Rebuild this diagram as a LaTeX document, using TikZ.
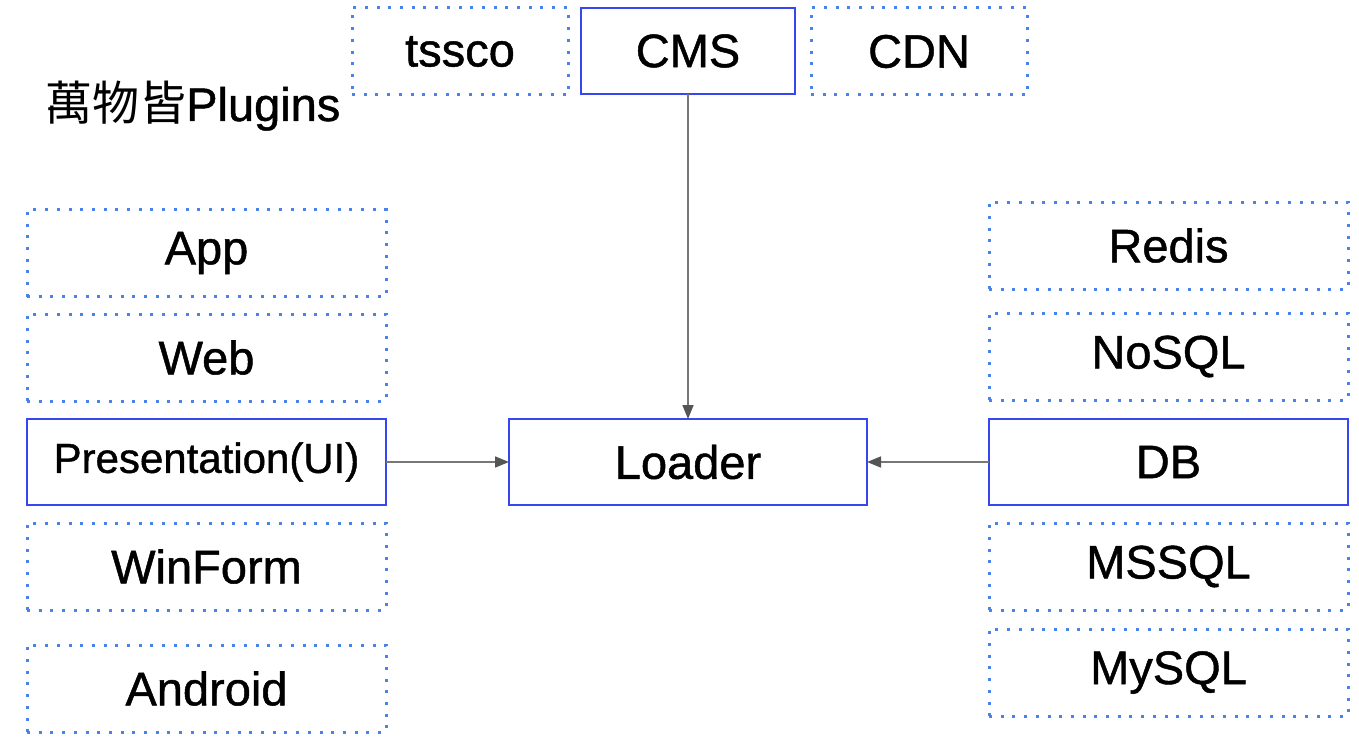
\documentclass[tikz,border=0pt]{standalone}
\usepackage{fontspec}
\setmainfont{Liberation Sans}[FakeBold=1]
\newfontfamily\cjk{Noto Sans CJK TC}
\usetikzlibrary{arrows.meta}
\definecolor{solidblue}{HTML}{3646F0}
\definecolor{dotblue}{HTML}{4A82EA}
\definecolor{linegray}{HTML}{777777}
\definecolor{tipgray}{HTML}{555555}
\tikzset{
  box/.style={rectangle, minimum width=359pt, minimum height=87pt, inner sep=0pt, outer sep=0pt,
    font=\fontsize{47}{52}\selectfont, text=black},
  solidbox/.style={box, draw=solidblue, line width=1.5pt},
  dotbox/.style={box, draw=dotblue, line width=3pt, dash pattern=on 3pt off 8.7pt},
  smallbox/.style={minimum width=216pt},
  conn/.style={draw=linegray, line width=1.6pt, -{Triangle[length=14pt,width=11pt,color=tipgray]}}
}
\begin{document}
\begin{tikzpicture}[x=1pt,y=-1pt]
\useasboundingbox (0,0) rectangle (1359,749);
% top row
\node[dotbox, smallbox] (tssco) at (460,51.5) {tssco};
\node[solidbox, minimum width=214pt, minimum height=86pt] (cms) at (688,51) {CMS};
\node[dotbox, smallbox] (cdn) at (919,51.5) {CDN};
% title
\node[anchor=base west, inner sep=0pt, font=\fontsize{47}{52}\selectfont] (title) at (45,121) {{\cjk 萬物皆}Plugins};
% left column
\node[dotbox] (app) at (206.5,253) {App};
\node[dotbox] (web) at (206.5,357.5) {Web};
\node[solidbox, minimum height=86pt, font=\fontsize{42}{46}\selectfont] (ui) at (206.5,462) {Presentation(UI)};
\node[dotbox] (winform) at (206.5,566.5) {WinForm};
\node[dotbox] (android) at (206.5,688.5) {Android};
% center
\node[solidbox, minimum width=358pt, minimum height=86pt] (loader) at (688,462) {Loader};
% right column
\node[dotbox] (redis) at (1168.5,245.5) {Redis};
\node[dotbox] (nosql) at (1168.5,356.5) {NoSQL};
\node[solidbox, minimum height=86pt] (db) at (1168.5,462) {DB};
\node[dotbox] (mssql) at (1168.5,566.5) {MSSQL};
\node[dotbox] (mysql) at (1168.5,672.5) {MySQL};
% connectors
\draw[conn] (cms.south) -- (loader.north);
\draw[conn] (ui.east) -- (loader.west);
\draw[conn] (db.west) -- (loader.east);
\end{tikzpicture}
\end{document}
